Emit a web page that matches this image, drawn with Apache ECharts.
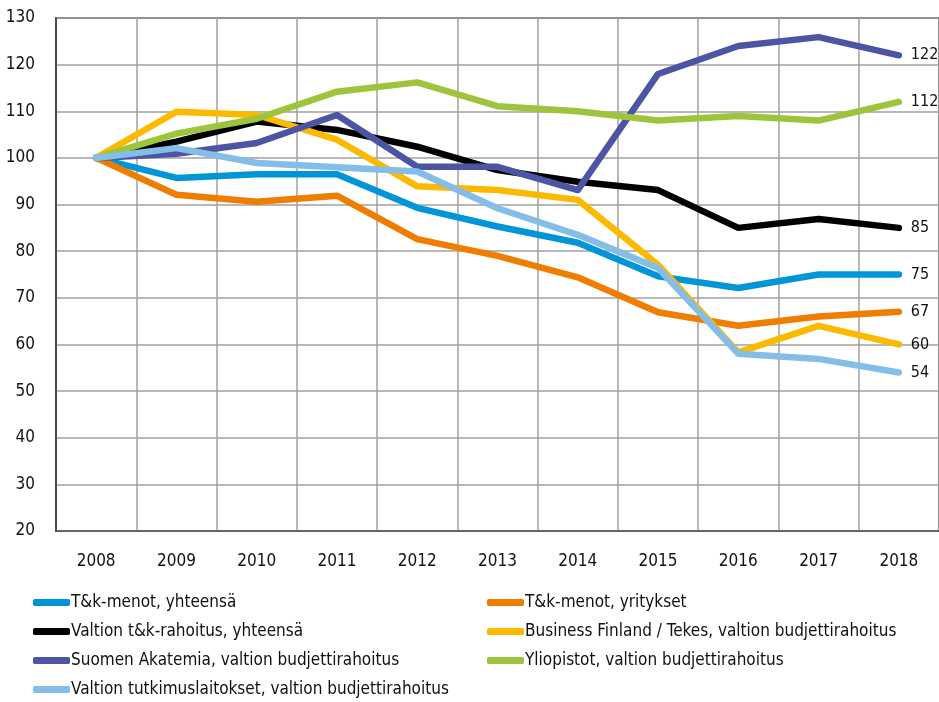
<!DOCTYPE html>
<html>
<head>
<meta charset="utf-8">
<script src="https://cdn.jsdelivr.net/npm/echarts@6/dist/echarts.min.js"></script>
<style>html,body{margin:0;padding:0;background:#fff;overflow:hidden;}#c{width:939px;height:702px;}</style>
</head>
<body>
<div id="c"></div>
<script>
var years = ['2008','2009','2010','2011','2012','2013','2014','2015','2016','2017','2018'];
var seriesNames = [
  'T&k-menot, yhteensä',
  'T&k-menot, yritykset',
  'Valtion t&k-rahoitus, yhteensä',
  'Business Finland / Tekes, valtion budjettirahoitus',
  'Suomen Akatemia, valtion budjettirahoitus',
  'Yliopistot, valtion budjettirahoitus',
  'Valtion tutkimuslaitokset, valtion budjettirahoitus'
];
var tkTotal      = [100, 95.7, 96.5, 96.5, 89.3, 85.3, 81.8, 74.6, 72.1, 75, 75];
var tkCompanies  = [100, 92.1, 90.6, 91.9, 82.6, 79, 74.4, 66.9, 64, 66, 67];
var govTotal     = [100, 103.5, 107.8, 106, 102.4, 97.4, 94.9, 93.1, 85, 86.9, 85];
var businessFin  = [100, 109.9, 109.2, 103.9, 93.9, 93.1, 91, 77.1, 58.3, 64, 60];
var academy      = [100, 100.9, 103.2, 109.2, 98.1, 98.1, 93.1, 118, 124, 125.9, 122];
var universities = [100, 105.2, 108.4, 114.2, 116.2, 111.1, 110, 108, 109, 108, 112];
var institutes   = [100, 102.1, 98.9, 98, 97.1, 89.2, 83.5, 76.4, 58, 56.9, 54];
var yTicks = {min: 20, max: 130, interval: 10};

var colors = ['#0095d9', '#ee7d00', '#000000', '#fbb900', '#4b55a3', '#9dc43a', '#84bde8'];
var dataArr = [tkTotal, tkCompanies, govTotal, businessFin, academy, universities, institutes];
var FONT = "'Liberation Sans Narrow', 'DejaVu Sans Condensed', 'Roboto', sans-serif";

var chart = echarts.init(document.getElementById('c'), null, {renderer: 'canvas'});
var series = dataArr.map(function (d, i) {
  return {
    name: seriesNames[i],
    type: 'line',
    data: d,
    showSymbol: false,
    symbol: 'none',
    color: colors[i],
    lineStyle: {width: 6.5, color: colors[i], cap: 'round', join: 'round'},
    endLabel: {
      show: true,
      distance: 12,
      color: '#111',
      fontFamily: FONT,
      fontSize: 16,
      formatter: function (p) { return Math.round(p.value); }
    },
    animation: false,
    z: 2 + i
  };
});

var legendCommon = {
  orient: 'vertical',
  icon: 'roundRect',
  itemWidth: 37,
  itemHeight: 7,
  itemGap: 12,
  height: 130,
  padding: 0,
  textStyle: {fontFamily: FONT, fontSize: 17, color: '#111', lineHeight: 17, padding: [0, 0, 0, -4]},
  selectedMode: false
};

chart.setOption({
  backgroundColor: '#fff',
  animation: false,
  grid: {left: 56, right: -3, top: 18, bottom: 171, show: true, borderColor: '#333', borderWidth: 1.5, backgroundColor: 'transparent'},
  legend: [
    Object.assign({}, legendCommon, {left: 33, top: 594, data: [seriesNames[0], seriesNames[2], seriesNames[4], seriesNames[6]]}),
    Object.assign({}, legendCommon, {left: 487, top: 594, data: [seriesNames[1], seriesNames[3], seriesNames[5]]})
  ],
  xAxis: {
    type: 'category',
    data: years,
    boundaryGap: true,
    axisLine: {show: true, lineStyle: {color: '#555', width: 1.5}},
    axisTick: {show: false},
    axisLabel: {margin: 22, fontFamily: FONT, fontSize: 17, color: '#111'},
    splitLine: {show: true, lineStyle: {color: '#a0a0a0', width: 1.5}}
  },
  yAxis: {
    type: 'value',
    min: yTicks.min,
    max: yTicks.max,
    interval: yTicks.interval,
    axisLine: {show: true, lineStyle: {color: '#333', width: 1.5}},
    axisTick: {show: false},
    axisLabel: {margin: 21, fontFamily: FONT, fontSize: 17, color: '#111'},
    splitLine: {show: true, lineStyle: {color: '#a0a0a0', width: 1.5}}
  },
  series: series
});
</script>
</body>
</html>
